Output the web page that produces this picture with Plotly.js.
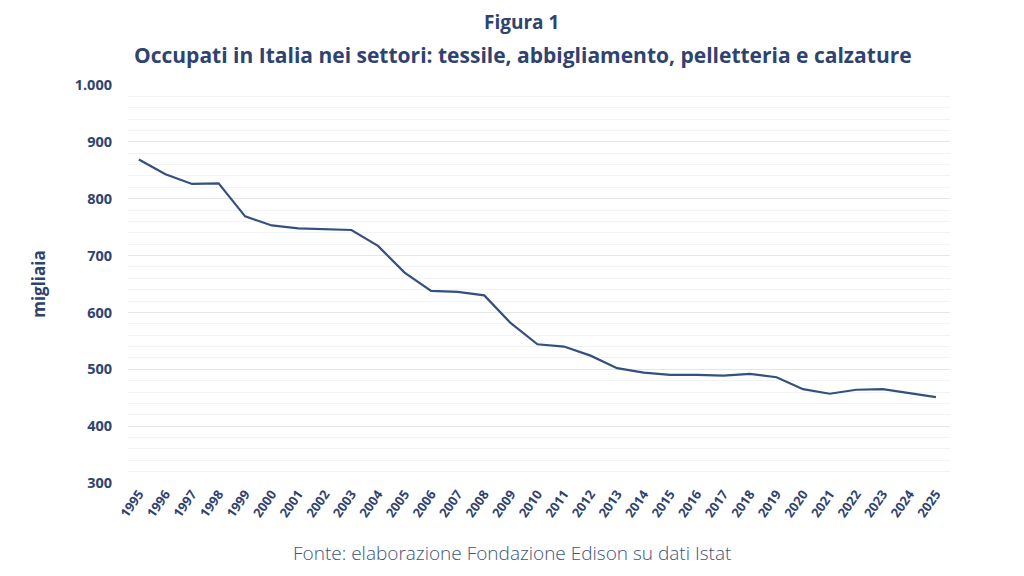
<!DOCTYPE html>
<html>
<head>
<meta charset="utf-8">
<script src="https://cdn.plot.ly/plotly-3.0.1.min.js"></script>
<style>
html,body{margin:0;padding:0;background:#fff;}
#chart{width:1024px;height:576px;}
</style>
</head>
<body>
<div id="chart"></div>
<script>
const years = [1995,1996,1997,1998,1999,2000,2001,2002,2003,2004,2005,2006,2007,2008,2009,2010,2011,2012,2013,2014,2015,2016,2017,2018,2019,2020,2021,2022,2023,2024,2025];
const occupati = [869,843,826,827,769,753,748,746,745,717,670,638,636,630,581,544,540,524,502,494,490,490,489,492,486,465,457,464,465,458,451];
const yTicks = [300,400,500,600,700,800,900,1000];

const navy = '#2f4370';
const fontFam = '"Open Sans", Lato, sans-serif';

// plot area in pixels: top 85, bottom 483, left 128, right 950
const T = 85, B = 483, L = 128, R = 950;
const py = px => (B - px) / (B - T);
const px = p => (p - L) / (R - L);

const trace = {
  x: years, y: occupati, type: 'scatter', mode: 'lines',
  line: {color: '#34507f', width: 2.2},
  hoverinfo: 'x+y'
};

const layout = {
  width: 1024, height: 576,
  paper_bgcolor: '#ffffff', plot_bgcolor: '#ffffff',
  separators: ',.',
  margin: {l: L, r: 1024 - R, t: T, b: 576 - B},
  showlegend: false,
  font: {family: fontFam, color: navy},
  xaxis: {
    range: [1994.59, 2025.53],
    tickvals: years,
    ticktext: years.map(String),
    tickangle: -55,
    tickfont: {family: fontFam, size: 13, color: navy, weight: 'bold'},
    showgrid: false, zeroline: false, showline: false, ticks: ''
  },
  yaxis: {
    range: [300, 1000],
    tickvals: yTicks,
    tickformat: ',d',
    tickfont: {family: fontFam, size: 14.5, color: navy, weight: 'bold'},
    showgrid: true, gridcolor: '#e4e6eb', gridwidth: 1,
    minor: {dtick: 20, showgrid: true, gridcolor: '#f2f3f5', gridwidth: 1},
    zeroline: false, showline: false, ticks: '',
    ticklabelstandoff: 15,
    title: {text: 'migliaia', font: {family: fontFam, size: 17, color: navy, weight: 'bold'}, standoff: 24}
  },
  annotations: [
    {text: 'Figura 1', xref: 'paper', yref: 'paper', x: px(521), y: py(22),
     xanchor: 'center', yanchor: 'middle', showarrow: false,
     font: {family: fontFam, size: 19, color: navy, weight: 'bold'}},
    {text: 'Occupati in Italia nei settori: tessile, abbigliamento, pelletteria e calzature', xref: 'paper', yref: 'paper',
     x: px(523), y: py(55), xanchor: 'center', yanchor: 'middle', showarrow: false,
     font: {family: fontFam, size: 21, color: navy, weight: 'bold'}},
    {text: 'Fonte: elaborazione Fondazione Edison su dati Istat', xref: 'paper', yref: 'paper',
     x: px(512), y: py(553), xanchor: 'center', yanchor: 'middle', showarrow: false,
     font: {family: fontFam, size: 19, color: '#41527c', weight: 300}}
  ]
};

Plotly.newPlot('chart', [trace], layout, {displayModeBar: false, staticPlot: true});
</script>
</body>
</html>
